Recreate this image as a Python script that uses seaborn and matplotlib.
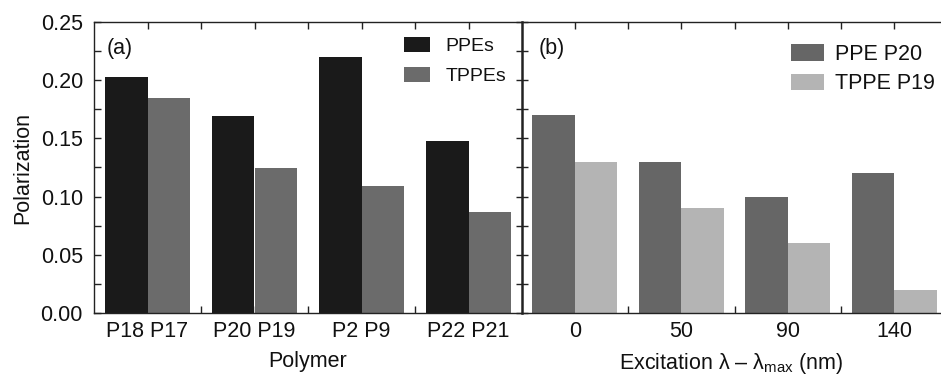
import numpy as np
import pandas as pd
import matplotlib
matplotlib.use('Agg')
import matplotlib.pyplot as plt
from matplotlib.ticker import MultipleLocator, FixedLocator
import seaborn as sns

# panel (a): polymer pairs
polymers = ['P18 P17', 'P20 P19', 'P2 P9', 'P22 P21']
ppe_vals = [0.2025, 0.1695, 0.2197, 0.1475]
tppe_vals = [0.1844, 0.1243, 0.1094, 0.0865]

# panel (b): excitation offset
excitation = ['0', '50', '90', '140']
p20_vals = [0.17, 0.13, 0.10, 0.12]
p19_vals = [0.13, 0.09, 0.06, 0.02]

sns.set_theme(style='ticks')
plt.rcParams['font.family'] = ['Liberation Sans', 'DejaVu Sans']
plt.rcParams['mathtext.fontset'] = 'custom'
plt.rcParams['mathtext.rm'] = 'Liberation Sans'
plt.rcParams['mathtext.it'] = 'Liberation Sans'
plt.rcParams['text.color'] = '#111111'
plt.rcParams['axes.labelcolor'] = '#111111'
plt.rcParams['xtick.labelcolor'] = '#111111'
plt.rcParams['ytick.labelcolor'] = '#111111'

df_a = pd.DataFrame({
    'Polymer': polymers * 2,
    'Polarization': ppe_vals + tppe_vals,
    'Type': ['PPEs'] * 4 + ['TPPEs'] * 4,
})
df_b = pd.DataFrame({
    'Excitation': excitation * 2,
    'Polarization': p20_vals + p19_vals,
    'Type': ['PPE P20'] * 4 + ['TPPE P19'] * 4,
})

W, H = 941, 375
fig = plt.figure(figsize=(W / 100, H / 100), dpi=100)
bot = (H - 313) / H
hgt = (313 - 22) / H
ax1 = fig.add_axes([94 / W, bot, (522 - 94) / W, hgt])
ax2 = fig.add_axes([521.5 / W, bot, (W - 521.5) / W, hgt])

fs = 15.5
sns.barplot(data=df_a, x='Polymer', y='Polarization', hue='Type',
            palette=['#1a1a1a', '#6b6b6b'], width=0.8, saturation=1,
            linewidth=0, ax=ax1, errorbar=None)
sns.barplot(data=df_b, x='Excitation', y='Polarization', hue='Type',
            palette=['#666666', '#b4b4b4'], width=0.8, saturation=1,
            linewidth=0, ax=ax2, errorbar=None)

for ax in (ax1, ax2):
    ax.set_ylim(0, 0.25)
    ax.xaxis.set_minor_locator(FixedLocator([0.5, 1.5, 2.5]))
    ax.yaxis.set_major_locator(MultipleLocator(0.05))
    ax.yaxis.set_minor_locator(MultipleLocator(0.025))
    ax.tick_params(axis='x', which='both', direction='in', top=True,
                   labelsize=fs, pad=6, width=1, length=5, color='#222222')
    for sp in ax.spines.values():
        sp.set_color('#222222')
        sp.set_linewidth(1.0)

ax1.set_xlim(-0.5, 3.5)
ax2.set_xlim(-0.5, -0.5 + (W - 521.5) / 106.5)

ax1.yaxis.set_major_formatter(matplotlib.ticker.FormatStrFormatter('%.2f'))
ax1.tick_params(axis='y', which='both', direction='in', labelsize=fs,
                pad=8, length=5, width=1, color='#222222')
ax1.spines['right'].set_visible(False)
ax1.set_xlabel('Polymer', fontsize=fs, labelpad=6)
ax1.set_ylabel('Polarization', fontsize=fs, labelpad=5)

ax2.tick_params(axis='y', which='both', direction='inout', labelleft=False,
                length=9, width=1, color='#222222')
ax2.spines['right'].set_visible(False)
ax2.spines['left'].set_linewidth(1.8)
ax2.set_ylabel('')
ax2.set_xlabel(r'Excitation λ – λ$_{\mathrm{max}}$ (nm)', fontsize=fs, labelpad=6)

ax1.text(0.03, 0.91, '(a)', transform=ax1.transAxes, fontsize=fs,
         va='center', ha='left')
ax2.text(0.04, 0.91, '(b)', transform=ax2.transAxes, fontsize=fs,
         va='center', ha='left')

ax1.legend(loc='upper left', bbox_to_anchor=(0.724, 0.95), frameon=False,
           fontsize=14, handlelength=1.35, handleheight=0.85,
           handletextpad=0.8, labelspacing=0.6, borderpad=0, borderaxespad=0)
ax2.legend(loc='upper left', bbox_to_anchor=(0.642, 0.925), frameon=False,
           fontsize=fs, handlelength=1.55, handleheight=0.8,
           handletextpad=0.5, labelspacing=0.4, borderpad=0, borderaxespad=0)

fig.savefig('out.png', dpi=100)
